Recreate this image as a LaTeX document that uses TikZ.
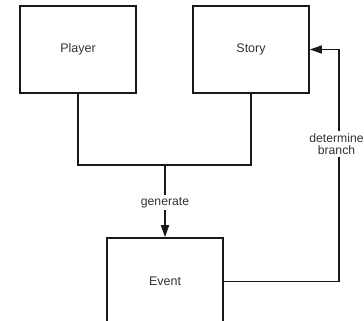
\documentclass[tikz,border=0pt]{standalone}
\usepackage{fontspec}
\setmainfont{Liberation Sans}
\usetikzlibrary{arrows.meta}
\begin{document}
\begin{tikzpicture}[x=1pt,y=-1pt,
  box/.style={draw=black!90, line width=1.6pt, minimum width=116pt, minimum height=87pt,
    inner sep=0pt, text=black!80, font=\fontsize{12.5}{14}\selectfont},
  link/.style={draw=black!90, line width=1.6pt},
  tag/.style={fill=white, text=black!80, inner sep=2.5pt, align=center,
    font=\fontsize{12.2}{12}\selectfont},
  tip/.style={-{Triangle[length=12pt,width=8pt]}}]
  \clip (0,0) rectangle (364,321);
  \fill[white] (0,0) rectangle (364,321);

  \node[box] (player) at (78,49.5) {Player};
  \node[box] (story) at (251,49.5) {Story};
  \node[box] (event) at (165,281.5) {Event};

  \coordinate (join) at (165,165);
  \coordinate (loop) at (339,281.5);

  % Player and Story merge into one line
  \draw[link] (player.south) |- (join) -| (story.south);
  \draw[link,tip] (join) -- node[tag, pos=0.52] {generate} (event.north);

  % Event feeds back into Story
  \draw[link,tip] (event.east) -- (loop) |- node[tag, pos=0.296, xshift=-2.5pt] {determine\\branch} (story.east);
\end{tikzpicture}
\end{document}
